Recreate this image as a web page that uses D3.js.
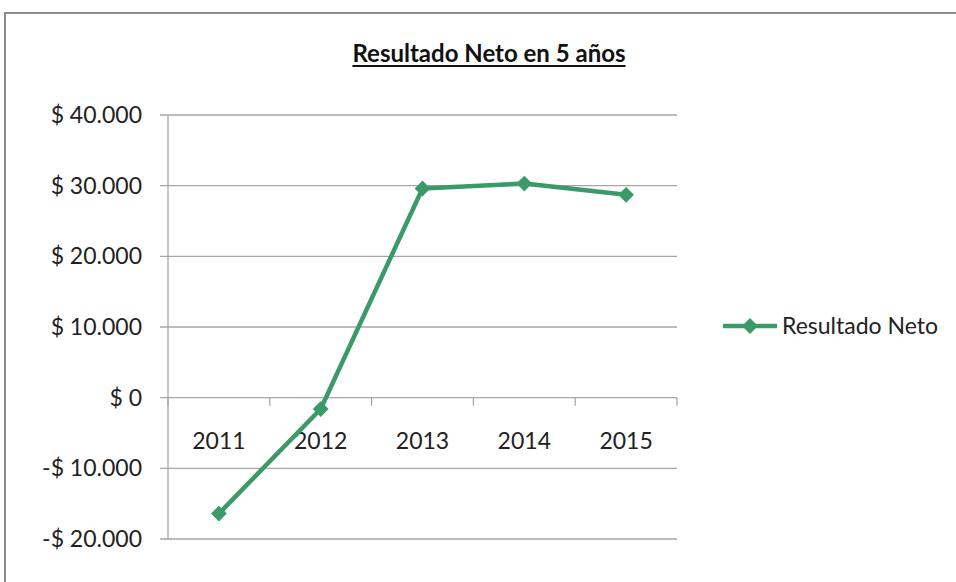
<!DOCTYPE html>
<html><head><meta charset="utf-8">
<script src="https://cdn.jsdelivr.net/npm/d3@7"></script>
<style>html,body{margin:0;padding:0;background:#fff;}svg{display:block;}</style>
</head><body>
<svg id="c" width="956" height="582"></svg>
<script>
const categories = ["2011","2012","2013","2014","2015"];
const values = [-16400, -1600, 29600, 30300, 28700];
const yTicks = [-20000, -10000, 0, 10000, 20000, 30000, 40000];
const seriesName = "Resultado Neto";
const title = "Resultado Neto en 5 años";

const svg = d3.select("#c");
const font = "Lato, 'Open Sans', sans-serif";
const green = "#3b9a68";

// frame
svg.append("rect").attr("x",5).attr("y",13).attr("width",960).attr("height",600)
  .attr("fill","#fff").attr("stroke","#8c8c8c").attr("stroke-width",2);

const L = 168, R = 677, T = 115, B = 539;
const x = d3.scaleBand().domain(categories).range([L, R]);
const y = d3.scaleLinear().domain([-20000, 40000]).range([B, T]);

// gridlines
svg.append("g").selectAll("line").data(yTicks).join("line")
  .attr("x1", L - 8).attr("x2", R).attr("y1", d => y(d)).attr("y2", d => y(d))
  .attr("stroke", "#a6a6a6").attr("stroke-width", 1.3);

// y axis line
svg.append("line").attr("x1", L).attr("x2", L).attr("y1", T).attr("y2", B)
  .attr("stroke", "#a6a6a6").attr("stroke-width", 1.3);

// y labels
const fmt = v => (v < 0 ? "-$ " : "$ ") + d3.format(",")(Math.abs(v)).replace(/,/g, ".");
svg.append("g").selectAll("text").data(yTicks).join("text")
  .attr("x", 142).attr("y", d => y(d)).attr("dy", "0.35em")
  .attr("text-anchor", "end").attr("font-family", font).attr("font-size", 23)
  .attr("fill", "#222").text(fmt);

// x axis tick marks at boundaries (at zero line)
const bounds = categories.map(c => x(c)).concat([R]);
svg.append("g").selectAll("line").data(bounds).join("line")
  .attr("x1", d => d).attr("x2", d => d).attr("y1", y(0)).attr("y2", y(0) + 8)
  .attr("stroke", "#a6a6a6").attr("stroke-width", 1.3);

// category labels
svg.append("g").selectAll("text").data(categories).join("text")
  .attr("x", d => x(d) + x.bandwidth() / 2).attr("y", y(0) + 51)
  .attr("text-anchor", "middle").attr("font-family", font).attr("font-size", 23)
  .attr("fill", "#222").text(d => d);

// line
const pts = categories.map((c, i) => [x(c) + x.bandwidth() / 2, y(values[i])]);
svg.append("path").attr("d", d3.line()(pts)).attr("fill", "none")
  .attr("stroke", green).attr("stroke-width", 4.5).attr("stroke-linejoin", "round");

svg.append("g").selectAll("path").data(pts).join("path")
  .attr("transform", d => `translate(${d[0]},${d[1]}) rotate(45)`)
  .attr("d", d3.symbol().type(d3.symbolSquare).size(125)).attr("fill", green);

// title
const tt = svg.append("text").attr("x", 489).attr("y", 62).attr("text-anchor", "middle")
  .attr("font-family", font).attr("font-weight", "bold").attr("font-size", 24)
  .attr("fill", "#111").text(title);
const bb = tt.node().getBBox();
svg.append("line").attr("x1", bb.x).attr("x2", bb.x + bb.width).attr("y1", 66).attr("y2", 66)
  .attr("stroke", "#111").attr("stroke-width", 1.8);

// legend
svg.append("line").attr("x1", 723).attr("x2", 777).attr("y1", 326).attr("y2", 326)
  .attr("stroke", green).attr("stroke-width", 4.5);
svg.append("path").attr("transform", "translate(750,326) rotate(45)")
  .attr("d", d3.symbol().type(d3.symbolSquare).size(125)).attr("fill", green);
svg.append("text").attr("x", 782).attr("y", 326).attr("dy", "0.35em")
  .attr("font-family", font).attr("font-size", 23).attr("fill", "#222").text(seriesName);
</script>
</body></html>
